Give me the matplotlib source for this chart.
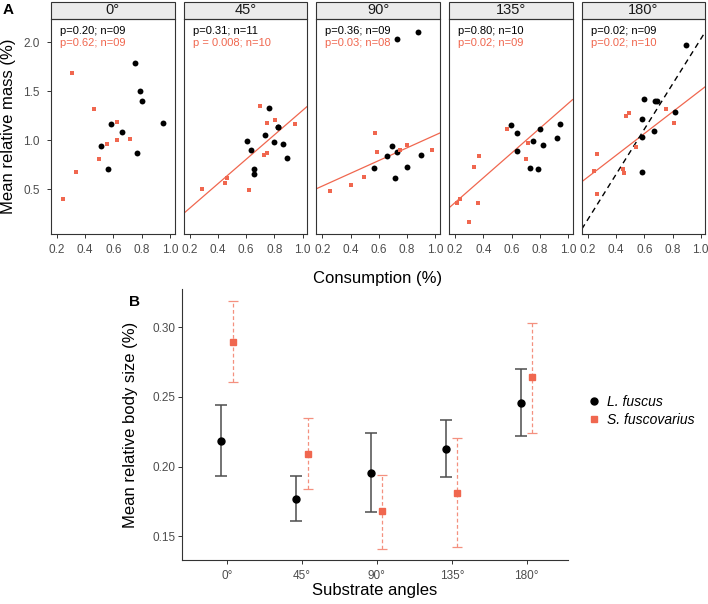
import matplotlib
matplotlib.use("Agg")
import matplotlib.pyplot as plt
from matplotlib.patches import Rectangle
from matplotlib.lines import Line2D
import numpy as np

plt.rcParams['font.family'] = ['Liberation Sans', 'DejaVu Sans']

RED = '#F0674F'
GREY_TXT = '#4D4D4D'

# ---------------- Panel A data ----------------
angles = ['0°', '45°', '90°', '135°', '180°']

lf_x = [
    [0.750, 0.788, 0.802, 0.952, 0.581, 0.659, 0.511, 0.765, 0.564],
    [0.765, 0.828, 0.730, 0.608, 0.800, 0.859, 0.636, 0.891, 0.659, 0.659, 0.828],
    [0.875, 0.727, 0.694, 0.727, 0.661, 0.901, 0.563, 0.802, 0.713],
    [0.595, 0.635, 0.944, 0.803, 0.750, 0.821, 0.925, 0.642, 0.732, 0.784],
    [0.892, 0.596, 0.674, 0.688, 0.817, 0.582, 0.667, 0.585, 0.582],
]
lf_y = [
    [1.792, 1.500, 1.398, 1.173, 1.166, 1.082, 0.942, 0.867, 0.707],
    [1.333, 1.136, 1.054, 0.990, 0.980, 0.962, 0.904, 0.822, 0.710, 0.653, 1.136],
    [2.108, 2.034, 0.942, 0.884, 0.837, 0.850, 0.717, 0.728, 0.615],
    [1.156, 1.071, 1.166, 1.118, 0.990, 0.952, 1.023, 0.888, 0.717, 0.710],
    [1.972, 1.418, 1.398, 1.404, 1.286, 1.214, 1.092, 1.037, 0.673],
]
sf_x = [
    [0.306, 0.463, 0.628, 0.628, 0.717, 0.557, 0.499, 0.336, 0.244],
    [0.699, 0.807, 0.751, 0.945, 0.751, 0.727, 0.467, 0.448, 0.291, 0.620],
    [0.571, 0.801, 0.751, 0.977, 0.589, 0.497, 0.400, 0.251],
    [0.570, 0.713, 0.372, 0.699, 0.332, 0.233, 0.212, 0.360, 0.302],
    [0.754, 0.493, 0.472, 0.808, 0.540, 0.263, 0.244, 0.453, 0.460, 0.263],
]
sf_y = [
    [1.690, 1.319, 1.190, 1.006, 1.016, 0.959, 0.809, 0.673, 0.401],
    [1.353, 1.210, 1.180, 1.166, 0.870, 0.850, 0.619, 0.568, 0.500, 0.490],
    [1.074, 0.952, 0.898, 0.901, 0.877, 0.626, 0.547, 0.479],
    [1.118, 0.969, 0.840, 0.812, 0.728, 0.404, 0.360, 0.360, 0.166],
    [1.319, 1.276, 1.248, 1.180, 0.935, 0.860, 0.690, 0.707, 0.663, 0.452],
]
lf_stats = ['p=0.20; n=09', 'p=0.31; n=11', 'p=0.36; n=09', 'p=0.80; n=10', 'p=0.02; n=09']
sf_stats = ['p=0.62; n=09', 'p = 0.008; n=10', 'p=0.03; n=08', 'p=0.02; n=09', 'p=0.02; n=10']

# fitted regression lines (slope, intercept); None = no line
sf_fit_slope = [None, 1.249, 0.651, 1.263, 1.110]
sf_fit_int = [None, 0.057, 0.403, 0.112, 0.402]
lf_fit_slope = [None, None, None, None, 2.304]
lf_fit_int = [None, None, None, None, -0.270]

xticks_A = [0.2, 0.4, 0.6, 0.8, 1.0]
yticks_A = [0.5, 1.0, 1.5, 2.0]

# ---------------- Panel B data ----------------
angle_labels_B = ['0°', '45°', '90°', '135°', '180°']
lf_mean = [0.2185, 0.177, 0.1952, 0.2127, 0.2454]
lf_lo = [0.1933, 0.1612, 0.1674, 0.1923, 0.2222]
lf_hi = [0.2440, 0.1935, 0.2242, 0.2333, 0.2698]
sf_mean = [0.2897, 0.2088, 0.1679, 0.1811, 0.2641]
sf_lo = [0.2605, 0.1840, 0.1412, 0.1424, 0.2241]
sf_hi = [0.3191, 0.2346, 0.1940, 0.2206, 0.3033]
species = ['L. fuscus', 'S. fuscovarius']

W, H = 708, 604
fig = plt.figure(figsize=(W / 100, H / 100), dpi=100)


def fx(px):
    return px / W


def fy(py):
    return 1 - py / H


# ---------------- Panel A ----------------
pan_top, pan_bot = 19, 234
pan_w = 123.5
pitch = 132.7
strip_h = 17
xlim_A = (0.158, 1.032)
ylim_A = (0.044, 2.238)

for i, ang in enumerate(angles):
    left = 51 + i * pitch
    ax = fig.add_axes([fx(left), fy(pan_bot), pan_w / W, (pan_bot - pan_top) / H])
    ax.set_xlim(*xlim_A)
    ax.set_ylim(*ylim_A)
    ax.scatter(lf_x[i], lf_y[i], s=18, c='black', marker='o', linewidths=0, zorder=3)
    ax.scatter(sf_x[i], sf_y[i], s=11, c=RED, marker='s', linewidths=0, zorder=3)
    xs = np.array(xlim_A)
    if sf_fit_slope[i] is not None:
        ax.plot(xs, sf_fit_int[i] + sf_fit_slope[i] * xs, color=RED, lw=0.9, zorder=2)
    if lf_fit_slope[i] is not None:
        ax.plot(xs, lf_fit_int[i] + lf_fit_slope[i] * xs, color='black', lw=1.0,
                ls=(0, (4, 3)), zorder=2)
    ax.text(0.073, 0.946, lf_stats[i], transform=ax.transAxes, fontsize=8,
            color='black', va='center', ha='left')
    ax.text(0.073, 0.887, sf_stats[i], transform=ax.transAxes, fontsize=8,
            color=RED, va='center', ha='left')
    for sp in ax.spines.values():
        sp.set_color('#333333')
        sp.set_linewidth(0.8)
    ax.set_xticks(xticks_A)
    ax.set_xticklabels(['%.1f' % v for v in xticks_A], fontsize=8.5, color=GREY_TXT)
    ax.tick_params(axis='x', length=3, width=0.7, color='#333333', pad=4.2)
    if i == 0:
        ax.set_yticks(yticks_A)
        ax.set_yticklabels(['%.1f' % v for v in yticks_A], fontsize=8.5, color=GREY_TXT)
        ax.tick_params(axis='y', length=3, width=0.7, color='#333333', pad=5)
    else:
        ax.set_yticks([])
    sh = strip_h / (pan_bot - pan_top)
    ax.add_patch(Rectangle((0, 1), 1, sh, transform=ax.transAxes, clip_on=False,
                           facecolor='#EBEBEB', edgecolor='#333333', lw=0.8))
    ax.text(0.5, 1 + sh / 2, ang, transform=ax.transAxes, ha='center', va='center',
            fontsize=10.5, color='#1A1A1A')

fig.text(fx(8.5), fy(126.5), 'Mean relative mass (%)', rotation=90, ha='center',
         va='center', fontsize=12)
fig.text(fx(378), fy(279), 'Consumption (%)', ha='center', va='center', fontsize=12)
fig.text(fx(8), fy(10), 'A', ha='center', va='center', fontsize=11, fontweight='bold')

# ---------------- Panel B ----------------
axB = fig.add_axes([fx(182), fy(560), 386 / W, 271 / H])
pos = np.arange(len(angle_labels_B))
dodge = 0.075
lf_mean_a = np.array(lf_mean)
sf_mean_a = np.array(sf_mean)
e1 = axB.errorbar(pos - dodge, lf_mean_a,
                  yerr=[lf_mean_a - np.array(lf_lo), np.array(lf_hi) - lf_mean_a],
                  fmt='o', color='black', ms=5, ecolor='#4D4D4D', elinewidth=1.1,
                  capsize=4, capthick=1.1, zorder=3)
e2 = axB.errorbar(pos + dodge, sf_mean_a,
                  yerr=[sf_mean_a - np.array(sf_lo), np.array(sf_hi) - sf_mean_a],
                  fmt='s', color=RED, ms=4.2, ecolor='#F4907F', elinewidth=0.9,
                  capsize=3.5, capthick=0.9, zorder=3)
for lc in e2[2]:
    lc.set_linestyle((0, (3, 2)))
axB.set_xlim(-0.6, 4.55)
axB.set_ylim(0.133, 0.3275)
axB.set_xticks(pos)
axB.set_xticklabels(angle_labels_B, fontsize=8.5, color=GREY_TXT)
axB.set_yticks([0.15, 0.20, 0.25, 0.30])
axB.set_yticklabels(['0.15', '0.20', '0.25', '0.30'], fontsize=8.5, color=GREY_TXT)
axB.tick_params(axis='x', length=3, width=0.7, color='#333333', pad=4)
axB.tick_params(axis='y', length=3, width=0.7, color='#333333', pad=1.5)
for s in ['top', 'right']:
    axB.spines[s].set_visible(False)
for s in ['left', 'bottom']:
    axB.spines[s].set_color('#333333')
    axB.spines[s].set_linewidth(0.8)

fig.text(fx(130), fy(424.5), 'Mean relative body size (%)', rotation=90, ha='center',
         va='center', fontsize=12)
fig.text(fx(375), fy(591), 'Substrate angles', ha='center', va='center', fontsize=12)
fig.text(fx(135), fy(302), 'B', ha='center', va='center', fontsize=11, fontweight='bold')

handles = [Line2D([], [], ls='none', marker='o', color='black', ms=5),
           Line2D([], [], ls='none', marker='s', color=RED, ms=4.2)]
fig.legend(handles, species, loc='center left', bbox_to_anchor=(fx(588), fy(411)),
           frameon=False, prop={'style': 'italic', 'size': 10}, handlelength=0.8,
           handletextpad=0.6, labelspacing=0.25, borderaxespad=0, borderpad=0)

fig.savefig('out.png', dpi=100)
